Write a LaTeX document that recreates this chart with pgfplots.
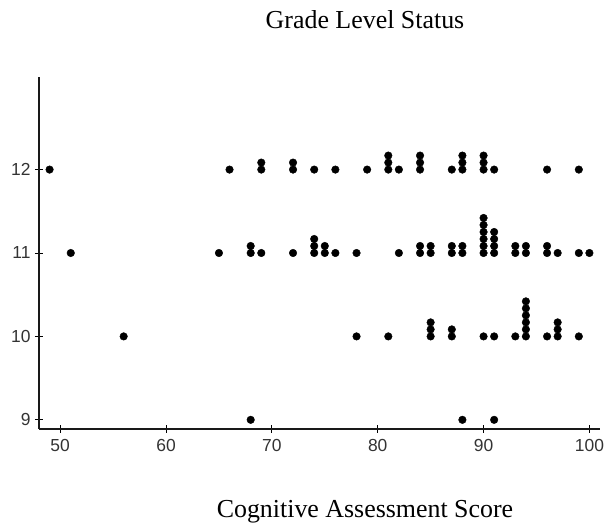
\documentclass[border=0pt]{standalone}
\usepackage{fontspec}
\setmainfont{Liberation Serif}
\newfontfamily\tickfont{Liberation Sans}
\usepackage{pgfplots}
\pgfplotsset{compat=1.18}
\begin{document}
\begin{tikzpicture}
\useasboundingbox (0,0) rectangle (608bp,527bp);
\begin{axis}[
  at={(39bp,98bp)}, anchor=south west,
  scale only axis, width=561bp, height=352bp,
  xmin=48, xmax=101, ymin=8.89, ymax=13.11,
  axis x line*=bottom, axis y line*=left,
  xtick={50,60,...,100}, ytick={9,10,11,12},
  tick align=center, major tick length=8bp,
  tick style={black, line width=0.9bp},
  axis line style={black!90, line width=1.6bp},
  /pgf/number format/assume math mode=true,
  tick label style={font=\tickfont\fontsize{17.5}{17.5}\selectfont, text=black!80},
  xticklabel style={yshift=-3bp},
  yticklabel style={xshift=-1bp},
  clip=false,
]
\addplot[only marks, mark=*, mark size=3.8bp, black] table {
x y
49 12
66 12
69 12
69 12.084
72 12
72 12.084
74 12
76 12
79 12
81 12
81 12.084
81 12.168
82 12
84 12
84 12.084
84 12.168
87 12
88 12
88 12.084
88 12.168
90 12
90 12.084
90 12.168
91 12
96 12
99 12
51 11
65 11
68 11
68 11.084
69 11
72 11
74 11
74 11.084
74 11.168
75 11
75 11.084
76 11
78 11
82 11
84 11
84 11.084
85 11
85 11.084
87 11
87 11.084
88 11
88 11.084
90 11
90 11.084
90 11.168
90 11.252
90 11.336
90 11.42
91 11
91 11.084
91 11.168
91 11.252
93 11
93 11.084
94 11
94 11.084
96 11
96 11.084
97 11
99 11
100 11
56 10
78 10
81 10
85 10
85 10.084
85 10.168
87 10
87 10.084
90 10
91 10
93 10
94 10
94 10.084
94 10.168
94 10.252
94 10.336
94 10.42
96 10
97 10
97 10.084
97 10.168
99 10
68 9
88 9
91 9
};
\end{axis}
\node[anchor=base, font=\fontsize{26}{30}\selectfont] at (365bp,498bp) {Grade Level Status};
\node[anchor=base, font=\fontsize{26}{30}\selectfont] at (365bp,10bp) {Cognitive Assessment Score};
\end{tikzpicture}
\end{document}
